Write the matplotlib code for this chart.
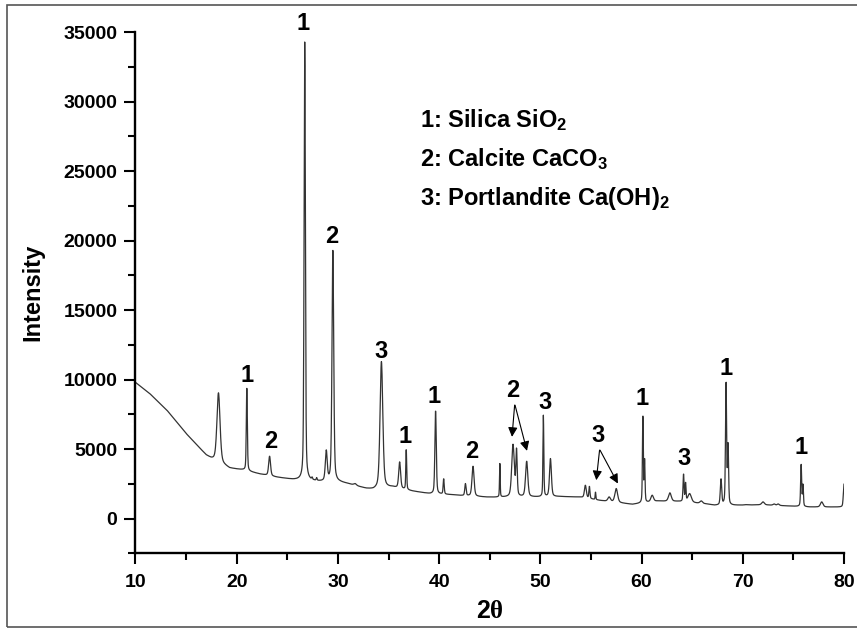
import numpy as np
import matplotlib
matplotlib.use("Agg")
import matplotlib.pyplot as plt
from matplotlib.patches import Rectangle
from matplotlib.ticker import MultipleLocator

plt.rcParams['font.family'] = ['Liberation Sans', 'DejaVu Sans']
plt.rcParams['font.weight'] = 'bold'
plt.rcParams['mathtext.fontset'] = 'custom'
plt.rcParams['mathtext.rm'] = 'Liberation Sans:bold'
plt.rcParams['mathtext.bf'] = 'Liberation Sans:bold'
plt.rcParams['mathtext.it'] = 'Liberation Serif'

# Background (amorphous hump + scatter) read at the valleys between reflections
bg_2theta = [10.0, 11.4, 13.1, 15.0, 17.0, 17.5, 19.3, 20.6, 22.3, 23.9, 25.6,
             26.3, 28.3, 30.2, 31.0, 32.8, 33.5, 35.4, 37.3, 39.1, 41.0, 42.0,
             44.7, 45.5, 49.9, 51.9, 53.9, 55.9, 58.5, 59.1, 61.5, 63.6, 66.5,
             67.2, 69.0, 72.0, 76.6, 79.5, 80.0]
bg_counts = [9800, 9000, 7800, 6120, 4550, 4300, 3620, 3500, 3200, 2980, 2800,
             2760, 2650, 2600, 2500, 2150, 2080, 2250, 1980, 1780, 1720, 1660,
             1540, 1530, 1550, 1580, 1540, 1300, 1070, 1020, 1250, 1230, 1040,
             950, 950, 990, 830, 830, 830]

# Reflections: position (deg 2-theta), apex intensity (counts), FWHM (deg)
peak_pos = [18.2, 21.0, 23.25, 26.72, 27.45, 27.9, 28.85, 29.5, 31.7, 34.3,
            36.1, 36.75, 39.65, 40.45, 42.6, 43.35, 46.0, 47.3, 47.65, 48.65,
            50.3, 51.0, 54.45, 54.85, 55.45, 56.8, 57.5, 60.13, 60.3, 61.05,
            62.8, 64.15, 64.35, 64.75, 65.9, 67.85, 68.35, 68.55, 70.3, 72.0,
            73.1, 73.5, 75.77, 75.95, 77.8, 80.0]
peak_top = [9050, 9370, 4490, 34300, 3000, 2950, 4950, 19300, 2520, 11300,
            4080, 5040, 7800, 2880, 2520, 3770, 3960, 5350, 5100, 4130,
            7440, 4320, 2400, 2330, 1920, 1560, 2160, 7560, 4320, 1680,
            1850, 3240, 2640, 1800, 1270, 2880, 9960, 5520, 1000, 1200,
            1050, 1050, 3960, 2520, 1200, 2470]
peak_fwhm = [0.36, 0.12, 0.22, 0.15, 0.10, 0.10, 0.22, 0.20, 0.30, 0.32,
             0.22, 0.10, 0.16, 0.12, 0.15, 0.24, 0.08, 0.30, 0.15, 0.26,
             0.10, 0.22, 0.22, 0.12, 0.08, 0.30, 0.32, 0.10, 0.10, 0.30,
             0.32, 0.12, 0.10, 0.40, 0.30, 0.16, 0.13, 0.12, 0.30, 0.30,
             0.25, 0.25, 0.12, 0.10, 0.30, 0.15]

# Phase labels: text, x, y (data units)
label_text = ['1', '1', '2', '2', '3', '1', '1', '2', '2', '3', '3', '1', '3', '1', '1']
label_x = [20.98, 26.54, 23.35, 29.37, 34.30, 36.60, 39.50, 43.25, 47.30, 50.50,
           55.69, 60.07, 64.24, 68.36, 75.77]
label_y = [10325, 35665, 5520, 20290, 12000, 5880, 8760, 4800, 9245, 8330,
           6000, 8650, 4320, 10810, 5115]

# Arrows for grouped reflections: tail (x, y) -> head (x, y)
arrow_tail_x = [47.46, 47.50, 55.85, 55.90]
arrow_tail_y = [8160, 8160, 4920, 4920]
arrow_head_x = [47.20, 48.68, 55.53, 57.66]
arrow_head_y = [5880, 4870, 2760, 2520]

legend_lines = [r'1: Silica SiO$_{2}$', r'2: Calcite CaCO$_{3}$',
                r'3: Portlandite Ca(OH)$_{2}$']


def profile(x, x0, w, eta=0.4):
    d = (x - x0) / w
    lor = 1.0 / (1.0 + 4.0 * d ** 2)
    gau = np.exp(-4.0 * np.log(2.0) * d ** 2)
    return eta * lor + (1.0 - eta) * gau


two_theta = np.linspace(10, 80, 3501)
pos = np.array(peak_pos)
wid = np.array(peak_fwhm)
top = np.array(peak_top, dtype=float)

# amplitudes so that each apex reaches its measured intensity
base_at_peaks = np.interp(pos, bg_2theta, bg_counts)
A = np.array([[profile(pi, pj, wj) for pj, wj in zip(pos, wid)] for pi in pos])
amp = np.linalg.solve(A, top - base_at_peaks)

counts = np.interp(two_theta, bg_2theta, bg_counts)
for p, w, a in zip(pos, wid, amp):
    counts = counts + a * profile(two_theta, p, w)

fig = plt.figure(figsize=(8.57, 6.28), dpi=100)
ax = fig.add_axes([0.1581, 0.119, 0.8267, 0.8296])

ax.plot(two_theta, counts, color='#333333', lw=0.9)

ax.set_xlim(10, 80)
ax.set_ylim(-2500, 35000)
ax.xaxis.set_major_locator(MultipleLocator(10))
ax.xaxis.set_minor_locator(MultipleLocator(5))
ax.yaxis.set_major_locator(MultipleLocator(5000))
ax.yaxis.set_minor_locator(MultipleLocator(2500))
ax.set_yticks(range(0, 35001, 5000))

for side in ('top', 'right'):
    ax.spines[side].set_visible(False)
for side in ('left', 'bottom'):
    ax.spines[side].set_linewidth(1.7)

ax.tick_params(which='major', direction='out', length=8, width=1.5,
               labelsize=14, pad=5)
ax.tick_params(axis='x', which='major', pad=7)
ax.tick_params(which='minor', direction='out', length=5, width=1.5)
for lab in ax.get_xticklabels() + ax.get_yticklabels():
    lab.set_fontweight('bold')

ax.set_ylabel('Intensity', fontsize=17, fontweight='bold', labelpad=14)
ax.set_xlabel(r'2$\theta$', fontsize=18, fontweight='bold', labelpad=6)

for t, x, y in zip(label_text, label_x, label_y):
    ax.text(x, y, t, fontsize=17, fontweight='bold', ha='center', va='center',
            clip_on=False)

for tx, ty, hx, hy in zip(arrow_tail_x, arrow_tail_y, arrow_head_x, arrow_head_y):
    ax.annotate('', xy=(hx, hy), xytext=(tx, ty),
                arrowprops=dict(arrowstyle='-|>', color='black', lw=0.8,
                                mutation_scale=14, shrinkA=0, shrinkB=0))

for i, line in enumerate(legend_lines):
    ax.text(0.402, 0.83 - i * 0.0745, line, transform=ax.transAxes,
            fontsize=17, fontweight='bold', ha='left', va='center')

fig.patches.append(Rectangle((7.5 / 857, 1.5 / 628), 1.2, 1 - 6 / 628,
                             transform=fig.transFigure, fill=False,
                             edgecolor='#555555', lw=1.2))

fig.savefig('out.png', dpi=100)
